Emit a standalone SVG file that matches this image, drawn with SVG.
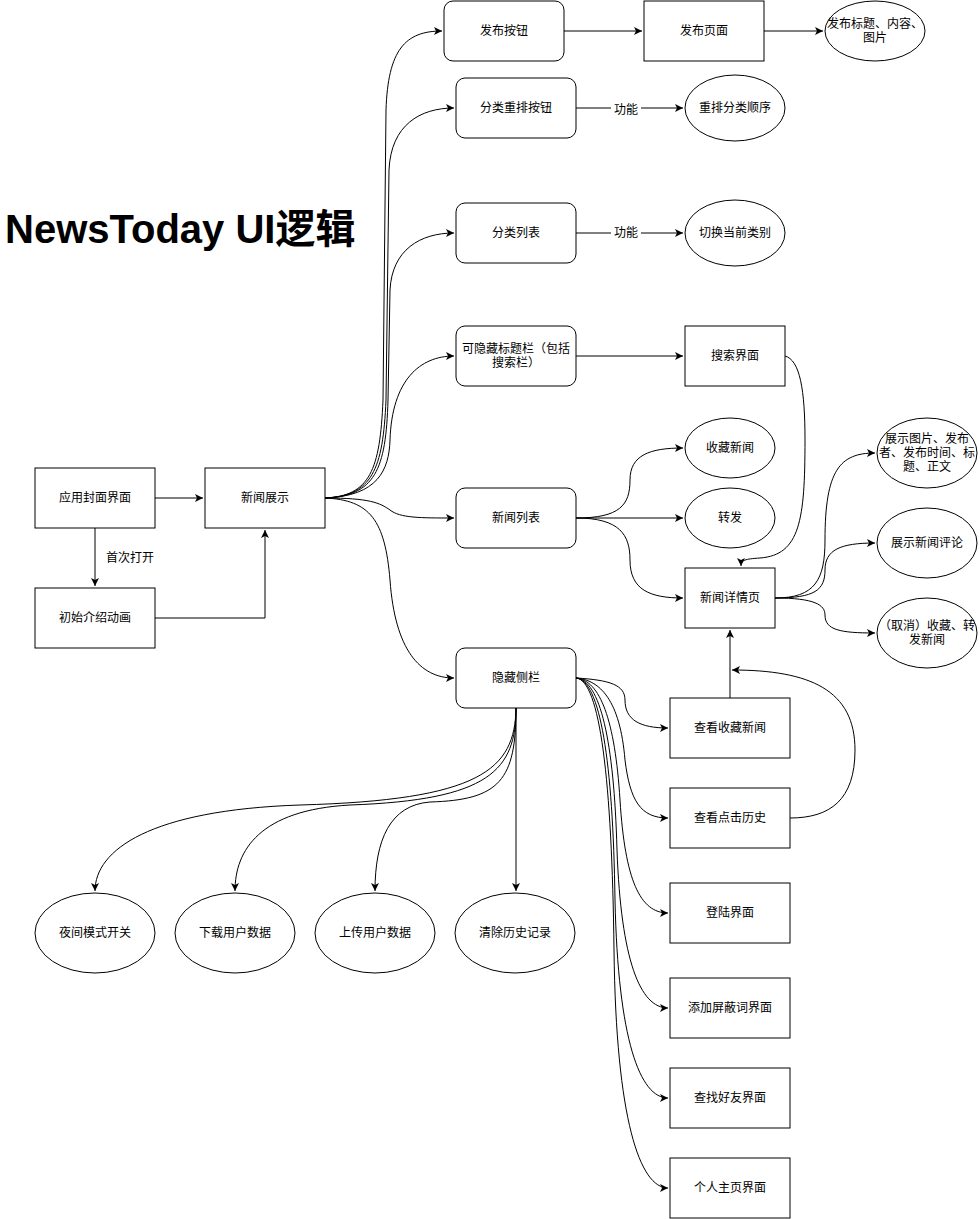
<svg xmlns="http://www.w3.org/2000/svg" width="980" height="1219" viewBox="0 0 980 1219">
<defs>
<marker id="arr" markerWidth="10" markerHeight="10" refX="8" refY="5" orient="auto" markerUnits="userSpaceOnUse">
<path d="M0,1 L8,5 L0,9 L2,5 Z" fill="#000"/>
</marker>
<style>
.n{fill:#fff;stroke:#000;stroke-width:1}
.t{font-family:"Liberation Sans","Noto Sans CJK SC",sans-serif;font-size:12px;fill:#000;text-anchor:middle;dominant-baseline:central}
.e{fill:none;stroke:#000;stroke-width:1;marker-end:url(#arr)}
.l{fill:none;stroke:#000;stroke-width:1}
.lb{font-family:"Liberation Sans","Noto Sans CJK SC",sans-serif;font-size:12px;fill:#000;text-anchor:middle;dominant-baseline:central}
</style>
</defs>
<rect width="980" height="1219" fill="#fff"/>
<text x="5" y="243" font-family="'Liberation Sans','Noto Sans CJK SC',sans-serif" font-size="40" font-weight="bold" fill="#000">NewsToday UI逻辑</text>

<g id="connectors">
<path class="e" d="M155,498 L203,498"/>
<path class="e" d="M95,528 L95,586"/>
<path class="e" d="M155,618 L265,618 L265,530"/>
<path class="e" d="M325,498 C370,496 380,470 383,400 L386,110 C388,50 405,31 442,31"/>
<path class="e" d="M325,498 C372,496 383,470 386,400 L389,170 C391,125 420,108 454,108"/>
<path class="e" d="M325,498 C375,496 386,470 388,400 L390,290 C392,250 420,233 454,233"/>
<path class="e" d="M325,498 C378,496 389,470 390,440 C392,380 420,356 454,356"/>
<path class="e" d="M325,498 C370,498 380,503 390,510 C400,518 420,518 454,518"/>
<path class="e" d="M325,498 C370,500 385,520 390,580 C395,650 420,678 454,678"/>
<path class="e" d="M564,31 L642,31"/>
<path class="e" d="M764,31 L823,31"/>
<path class="e" d="M576,108 L683,108"/>
<path class="e" d="M576,233 L683,233"/>
<path class="e" d="M576,356 L683,356"/>
<path class="e" d="M576,518 C620,518 630,505 630,480 C630,455 650,448 683,448"/>
<path class="e" d="M576,518 L683,518"/>
<path class="e" d="M576,518 C620,518 630,535 630,560 C630,590 650,598 683,598"/>
<path class="e" d="M785,356 C800,360 805,390 805,440 C805,520 800,555 760,558 C745,559 741,560 741,566"/>
<path class="e" d="M775,598 C815,598 825,580 825,540 C825,470 840,453 875,453"/>
<path class="e" d="M775,598 C815,598 825,590 825,570 C825,550 840,543 875,543"/>
<path class="e" d="M775,598 C815,598 825,605 825,615 C825,630 840,633 875,633"/>
<path class="e" d="M730,698 L730,630"/>
<path class="e" d="M790,818 C830,818 855,800 855,750 C855,690 810,670 732,670"/>
<path class="e" d="M576,678 C610,680 625,685 625,700 C625,720 640,728 668,728"/>
<path class="e" d="M576,678 C600,680 620,700 625,760 C630,800 640,818 668,818"/>
<path class="e" d="M576,678 C600,680 615,720 620,800 C625,880 640,913 668,913"/>
<path class="e" d="M576,678 C600,680 614,740 617,850 C621,960 640,1008 668,1008"/>
<path class="e" d="M576,678 C600,680 613,760 615,900 C618,1040 640,1098 668,1098"/>
<path class="e" d="M576,678 C600,680 612,780 614,950 C616,1120 640,1188 668,1188"/>
<path class="e" d="M516,708 L516,891"/>
<path class="e" d="M516,708 C516,780 500,800 430,802 C390,805 375,840 375,891"/>
<path class="e" d="M516,708 C516,770 490,800 350,805 C260,810 235,850 235,891"/>
<path class="e" d="M516,708 C515,770 480,800 300,805 C150,810 95,850 95,891"/>
<rect x="611" y="102" width="30" height="14" fill="#fff"/>
<text class="lb" x="626" y="110">功能</text>
<rect x="611" y="226" width="30" height="14" fill="#fff"/>
<text class="lb" x="626" y="233">功能</text>
<text class="lb" x="130" y="558">首次打开</text>
</g>

<g id="n-cover"><rect class="n" x="35" y="468" width="120" height="60"/><text class="t" x="95" y="498">应用封面界面</text></g>
<g id="n-news"><rect class="n" x="205" y="468" width="120" height="60"/><text class="t" x="265" y="498">新闻展示</text></g>
<g id="n-intro"><rect class="n" x="35" y="588" width="120" height="60"/><text class="t" x="95" y="618">初始介绍动画</text></g>

<g id="n-pubbtn"><rect class="n" x="444" y="1" width="120" height="60" rx="9"/><text class="t" x="504" y="31">发布按钮</text></g>
<g id="n-pubpage"><rect class="n" x="644" y="1" width="120" height="60"/><text class="t" x="704" y="31">发布页面</text></g>
<g id="n-pubcontent"><ellipse class="n" cx="875" cy="31" rx="50" ry="30"/><text class="t" x="875" y="24">发布标题、内容、</text><text class="t" x="875" y="38">图片</text></g>

<g id="n-reorder"><rect class="n" x="456" y="78" width="120" height="60" rx="9"/><text class="t" x="516" y="108">分类重排按钮</text></g>
<g id="n-reorder2"><ellipse class="n" cx="735" cy="108" rx="50" ry="33"/><text class="t" x="735" y="108">重排分类顺序</text></g>

<g id="n-catlist"><rect class="n" x="456" y="203" width="120" height="60" rx="9"/><text class="t" x="516" y="233">分类列表</text></g>
<g id="n-switch"><ellipse class="n" cx="735" cy="233" rx="50" ry="33"/><text class="t" x="735" y="233">切换当前类别</text></g>

<g id="n-titlebar"><rect class="n" x="456" y="326" width="120" height="60" rx="9"/><text class="t" x="516" y="349">可隐藏标题栏（包括</text><text class="t" x="516" y="363">搜索栏）</text></g>
<g id="n-search"><rect class="n" x="685" y="326" width="100" height="60"/><text class="t" x="735" y="356">搜索界面</text></g>

<g id="n-newslist"><rect class="n" x="456" y="488" width="120" height="60" rx="9"/><text class="t" x="516" y="518">新闻列表</text></g>
<g id="n-fav"><ellipse class="n" cx="730" cy="448" rx="45" ry="30"/><text class="t" x="730" y="448">收藏新闻</text></g>
<g id="n-share"><ellipse class="n" cx="730" cy="518" rx="45" ry="30"/><text class="t" x="730" y="518">转发</text></g>
<g id="n-detail"><rect class="n" x="685" y="568" width="90" height="60"/><text class="t" x="730" y="598">新闻详情页</text></g>

<g id="n-show1"><ellipse class="n" cx="927" cy="453" rx="50" ry="35"/><text class="t" x="927" y="439">展示图片、发布</text><text class="t" x="927" y="453">者、发布时间、标</text><text class="t" x="927" y="467">题、正文</text></g>
<g id="n-show2"><ellipse class="n" cx="927" cy="543" rx="50" ry="35"/><text class="t" x="927" y="543">展示新闻评论</text></g>
<g id="n-show3"><ellipse class="n" cx="927" cy="633" rx="50" ry="35"/><text class="t" x="927" y="626">（取消）收藏、转</text><text class="t" x="927" y="640">发新闻</text></g>

<g id="n-side"><rect class="n" x="456" y="648" width="120" height="60" rx="9"/><text class="t" x="516" y="678">隐藏侧栏</text></g>
<g id="n-viewfav"><rect class="n" x="670" y="698" width="120" height="60"/><text class="t" x="730" y="728">查看收藏新闻</text></g>
<g id="n-history"><rect class="n" x="670" y="788" width="120" height="60"/><text class="t" x="730" y="818">查看点击历史</text></g>
<g id="n-login"><rect class="n" x="670" y="883" width="120" height="60"/><text class="t" x="730" y="913">登陆界面</text></g>
<g id="n-block"><rect class="n" x="670" y="978" width="120" height="60"/><text class="t" x="730" y="1008">添加屏蔽词界面</text></g>
<g id="n-friend"><rect class="n" x="670" y="1068" width="120" height="60"/><text class="t" x="730" y="1098">查找好友界面</text></g>
<g id="n-home"><rect class="n" x="670" y="1158" width="120" height="60"/><text class="t" x="730" y="1188">个人主页界面</text></g>

<g id="n-night"><ellipse class="n" cx="95" cy="933" rx="60" ry="40"/><text class="t" x="95" y="933">夜间模式开关</text></g>
<g id="n-download"><ellipse class="n" cx="235" cy="933" rx="60" ry="40"/><text class="t" x="235" y="933">下载用户数据</text></g>
<g id="n-upload"><ellipse class="n" cx="375" cy="933" rx="60" ry="40"/><text class="t" x="375" y="933">上传用户数据</text></g>
<g id="n-clear"><ellipse class="n" cx="515" cy="933" rx="60" ry="40"/><text class="t" x="515" y="933">清除历史记录</text></g>
</svg>
